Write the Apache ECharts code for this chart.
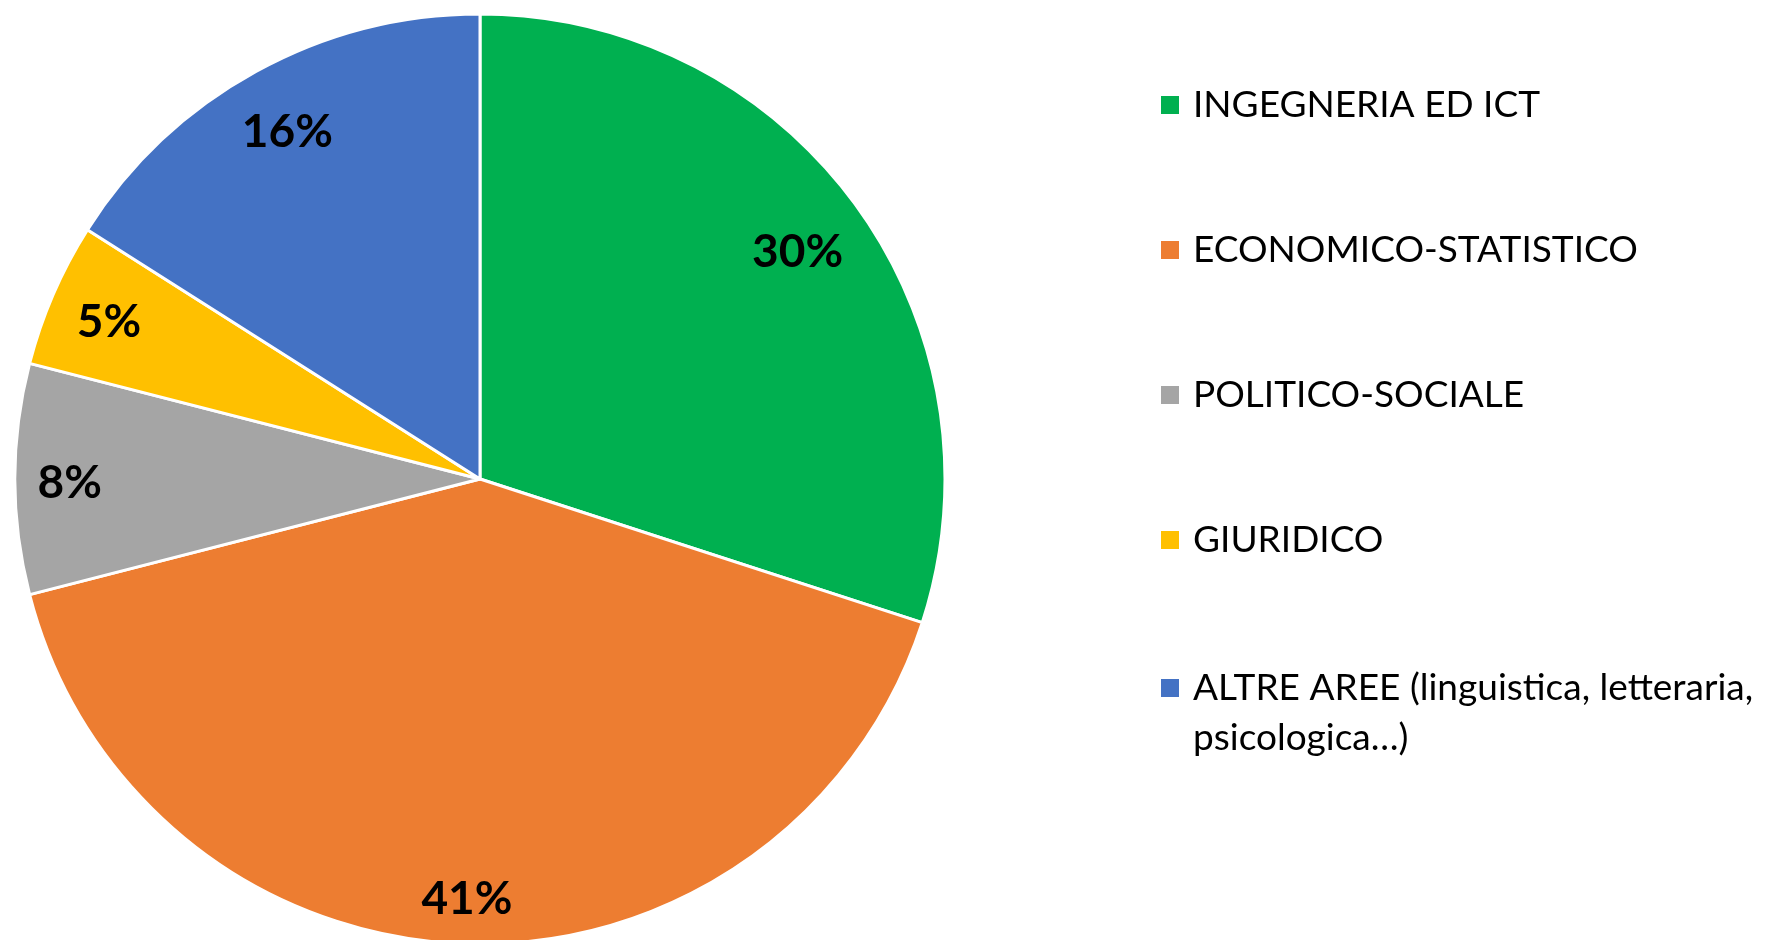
<!DOCTYPE html>
<html>
<head>
<meta charset="utf-8">
<title>Aree disciplinari</title>
<script src="https://cdn.jsdelivr.net/npm/echarts@6/dist/echarts.min.js"></script>
<style>
    html, body { margin: 0; padding: 0; background: #ffffff; }
    #chart { width: 1790px; height: 940px; }
</style>
</head>
<body>
<div id="chart"></div>
<script>
// dati
var aree = ['INGEGNERIA ED ICT', 'ECONOMICO-STATISTICO', 'POLITICO-SOCIALE', 'GIURIDICO',
    'ALTRE AREE (linguistica, letteraria,\npsicologica…)'];
var percentuali = [30, 41, 8, 5, 16];
var colori = ['#00B050', '#ED7D31', '#A5A5A5', '#FFC000', '#4472C4'];

// geometria della torta
var cx = 480, cy = 479, raggio = 465;
var margine = 22;   // distanza etichetta-bordo (tipo "interno fine")

var fontLegenda = 'Lato, "Open Sans", sans-serif';
var quadrato = 'path://M0,0L10,0L10,10L0,10Z';

var dati = [];
for (var i = 0; i < aree.length; i++) {
    dati.push({ name: aree[i], value: percentuali[i] });
}

// sposta l'etichetta lungo il raggio finché il suo angolo più esterno tocca il bordo meno il margine
function etichettaInterna(params) {
    var r = params.labelRect;
    var lx = r.x + r.width / 2, ly = r.y + r.height / 2;
    var ux = lx - cx, uy = ly - cy;
    var len = Math.sqrt(ux * ux + uy * uy) || 1;
    ux = ux / len; uy = uy / len;
    var hx = (ux >= 0 ? 1 : -1) * r.width / 2;
    var hy = (uy >= 0 ? 1 : -1) * r.height / 2;
    var uh = ux * hx + uy * hy;
    var lim = raggio - margine;
    var t = -uh + Math.sqrt(uh * uh - (hx * hx + hy * hy) + lim * lim);
    return {
        x: cx + t * ux,
        y: cy + t * uy + 4,
        align: 'center',
        verticalAlign: 'middle'
    };
}

var myChart = echarts.init(document.getElementById('chart'));
var option = {
    color: colori,
    animation: false,
    legend: [{
        // prime quattro voci
        data: aree.slice(0, 4),
        orient: 'vertical',
        left: 1159,
        top: 80,
        padding: 0,
        itemWidth: 36,
        itemHeight: 20,
        itemGap: 95,
        icon: quadrato,
        selectedMode: false,
        textStyle: {
            fontFamily: fontLegenda,
            fontSize: 37,
            lineHeight: 50,
            color: '#000000'
        }
    }, {
        // ultima voce su due righe: riga vuota davanti così il quadratino resta sulla prima riga
        data: [aree[4]],
        orient: 'vertical',
        left: 1159,
        top: 613,
        padding: 0,
        itemWidth: 36,
        itemHeight: 20,
        icon: quadrato,
        selectedMode: false,
        formatter: function (name) {
            return '\n' + name;
        },
        textStyle: {
            fontFamily: fontLegenda,
            fontSize: 37,
            lineHeight: 50,
            color: '#000000'
        }
    }],
    series: [
        {
            name: 'aree',
            type: 'pie',
            center: [cx, cy],
            radius: [0, raggio],
            startAngle: 90,
            clockwise: true,
            silent: true,
            data: dati,
            itemStyle: {
                borderColor: '#ffffff',
                borderWidth: 3
            },
            label: {
                show: true,
                position: 'inside',
                formatter: '{c}%',
                fontFamily: 'Lato, "Open Sans", sans-serif',
                fontWeight: 'bold',
                fontSize: 46,
                lineHeight: 46,
                color: '#000000'
            },
            labelLayout: etichettaInterna,
            labelLine: { show: false }
        }
    ]
};
myChart.setOption(option);
</script>
</body>
</html>
